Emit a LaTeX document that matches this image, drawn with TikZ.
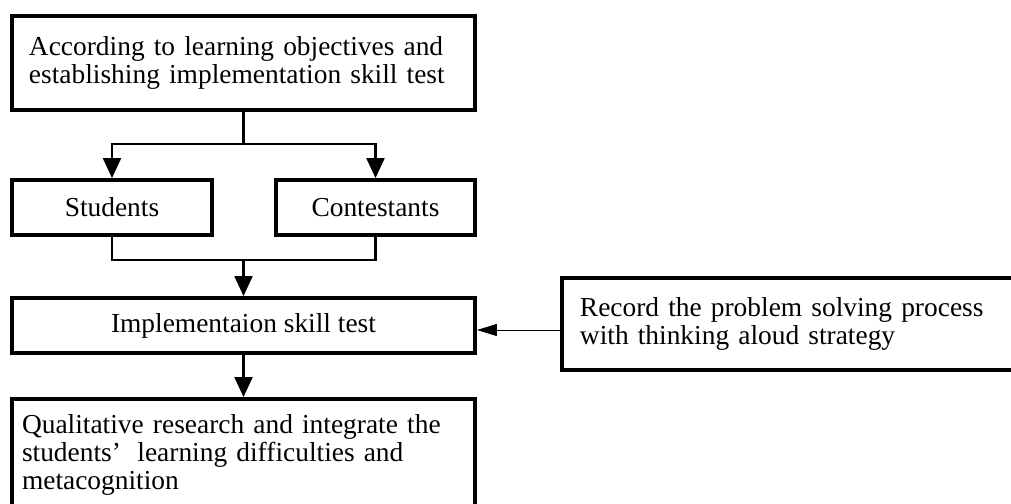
\documentclass[tikz,border=0pt]{standalone}
\usepackage{fontspec}
\setmainfont{Liberation Serif}
\usepackage{tikz}
\usetikzlibrary{arrows.meta,positioning}

\begin{document}
\begin{tikzpicture}[
    box/.style={draw,line width=2.8pt,inner ysep=0pt,font=\fontsize{19.5}{20}\selectfont},
    leftbox/.style={box,align=left},
    conn/.style={line width=1.6pt},
    arr/.style={conn,-{Triangle[length=0.5cm,width=0.45cm]}},
    thinarr/.style={line width=0.7pt,-{Triangle[length=0.5cm,width=0.3cm]}}]
  \useasboundingbox (0,0) rectangle (25.275,-12.575);

  % main column
  \node[leftbox,minimum width=11.575cm,minimum height=2.35cm,text width=10.725cm,inner xsep=0.425cm]
    (obj) at (6.0875,-1.575) {According to learning objectives and\\establishing implementation skill test};
  \node[box,minimum width=5cm,minimum height=1.375cm] (stud) at (2.8,-5.1875) {Students};
  \node[box,minimum width=4.975cm,minimum height=1.375cm] (cont) at (9.3875,-5.1875) {Contestants};
  \node[box,minimum width=11.575cm,minimum height=1.375cm] (impl) at (6.0875,-8.1375) {Implementaion skill test};
  \node[leftbox,anchor=north,minimum width=11.575cm,minimum height=2.8cm,text width=11.075cm,inner xsep=0.25cm]
    (qual) at (6.0875,-9.925) {Qualitative research and integrate the\\students’\hspace{0.6em}learning difficulties and\\metacognition};

  % side note
  \node[leftbox,anchor=west,minimum width=11.75cm,minimum height=2.3cm,text width=10.85cm,inner xsep=0.45cm]
    (think) at (14,-8.1) {Record the problem solving process\\with thinking aloud strategy};

  % split and merge
  \path (obj.south) ++(0,-0.8) coordinate (split);
  \draw[conn] (obj.south) -- (split);
  \draw[arr] (split) -| (stud.north);
  \draw[arr] (split) -| (cont.north);
  \path (stud.south) ++(0,-0.575) coordinate (merge);
  \draw[conn] (stud.south) -- (merge) -| (cont.south);
  \draw[arr] (merge -| impl.north) -- (impl.north);
  \draw[arr] (impl.south) -- (qual.north);
  \draw[thinarr] ([yshift=-0.15cm]think.west) -- ([yshift=-0.15cm]think.west -| impl.east);
\end{tikzpicture}
\end{document}
